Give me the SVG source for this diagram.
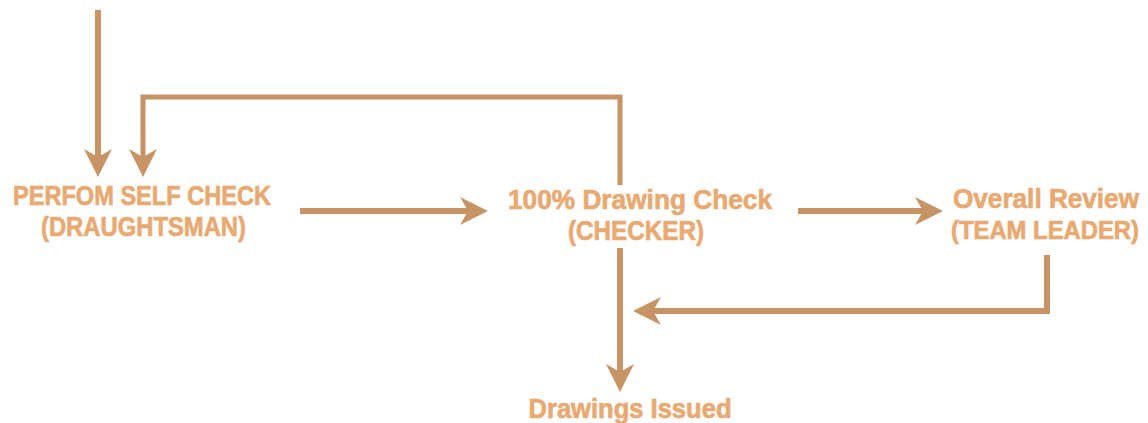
<svg xmlns="http://www.w3.org/2000/svg" width="1148" height="423" viewBox="0 0 1148 423">
  <style>
    .lbl { font-family: "Liberation Sans", Arial, sans-serif; font-weight: bold; font-size: 27px; fill: #E8AA72; stroke: #E8AA72; stroke-width: 0.7; text-anchor: middle; }
    .sm { font-size: 25px; }
    .conn { fill: none; stroke: #C79465; stroke-width: 6; stroke-linejoin: miter; }
    .thin { stroke-width: 5; }
  </style>
  <defs>
    <marker id="ah" markerUnits="userSpaceOnUse" viewBox="0 0 28 30" markerWidth="28" markerHeight="30" refX="14" refY="15" orient="auto">
      <path d="M0,1 L28,15 L0,29 L8,15 Z" fill="#C79465"/>
    </marker>
  </defs>
  <rect width="1148" height="423" fill="#FFFFFF"/>

  <g id="connectors">
    <path class="conn" d="M98,10 V163" marker-end="url(#ah)"/>
    <path class="conn thin" d="M620,185 V97 H143 V163" marker-end="url(#ah)"/>
    <path class="conn" d="M300,211 H474" marker-end="url(#ah)"/>
    <path class="conn" d="M798,211 H929" marker-end="url(#ah)"/>
    <path class="conn" d="M620,248 V378" marker-end="url(#ah)"/>
    <path class="conn" d="M1047,255 V311 H647" marker-end="url(#ah)"/>
  </g>

  <g id="node-self-check">
    <text class="lbl" x="142" y="205" textLength="258" lengthAdjust="spacingAndGlyphs">PERFOM SELF CHECK</text>
    <text class="lbl" x="143.5" y="236" textLength="205" lengthAdjust="spacingAndGlyphs">(DRAUGHTSMAN)</text>
  </g>
  <g id="node-drawing-check">
    <text class="lbl" x="640" y="209" textLength="264" lengthAdjust="spacingAndGlyphs">100% Drawing Check</text>
    <text class="lbl" x="636" y="240" textLength="136" lengthAdjust="spacingAndGlyphs">(CHECKER)</text>
  </g>
  <g id="node-overall-review">
    <text class="lbl" x="1046" y="208" textLength="186" lengthAdjust="spacingAndGlyphs">Overall Review</text>
    <text class="lbl sm" x="1045" y="239" textLength="188" lengthAdjust="spacingAndGlyphs">(TEAM LEADER)</text>
  </g>
  <g id="node-drawings-issued">
    <text class="lbl" x="630" y="418" textLength="203" lengthAdjust="spacingAndGlyphs">Drawings Issued</text>
  </g>
</svg>
